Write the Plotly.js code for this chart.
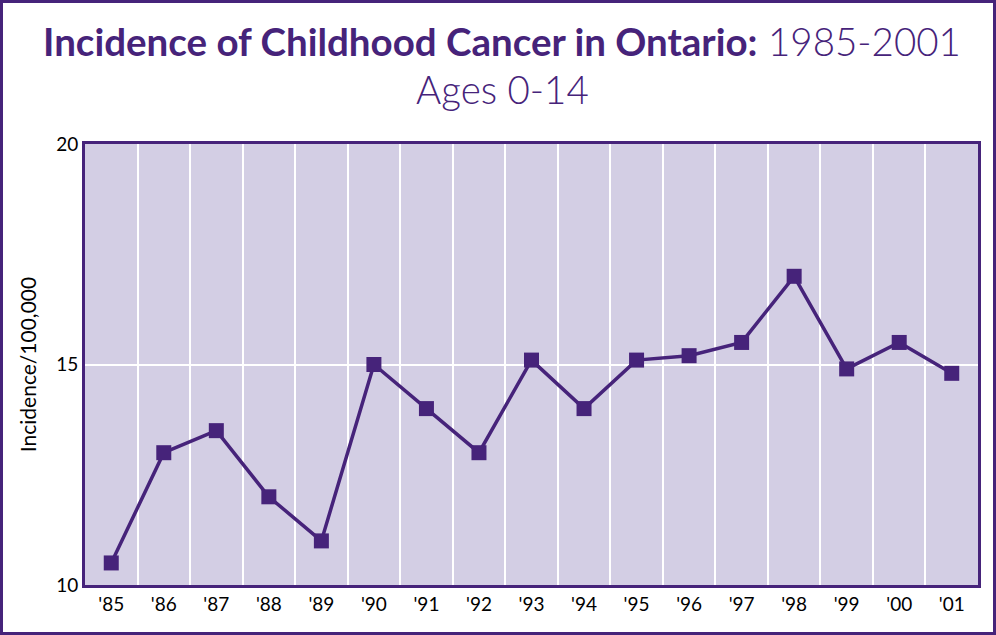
<!DOCTYPE html>
<html><head><meta charset="utf-8">
<script src="https://cdn.plot.ly/plotly-3.0.1.min.js"></script>
<style>
html,body{margin:0;padding:0;background:#fff;}
#wrap{position:absolute;left:0;top:0;width:996px;height:635px;box-sizing:border-box;border:3px solid #46237a;background:#fff;}
#chart{width:990px;height:629px;}
</style></head><body>
<div id="wrap"><div id="chart"></div></div>
<script>
const years = ["'85","'86","'87","'88","'89","'90","'91","'92","'93","'94","'95","'96","'97","'98","'99","'00","'01"];
const incidence = [10.5, 13.0, 13.5, 12.0, 11.0, 15.0, 14.0, 13.0, 15.1, 14.0, 15.1, 15.2, 15.5, 17.0, 14.9, 15.5, 14.8];
const yTicks = [10, 15, 20];
const titleLine1 = "<b>Incidence of Childhood Cancer in Ontario:</b> 1985-2001";
const titleLine2 = "Ages 0-14";

const purple = '#46237a';
const trace = {
  x: years, y: incidence, type: 'scatter', mode: 'lines+markers',
  line: {color: purple, width: 3.5},
  marker: {symbol: 'square', size: 15, color: purple},
  hoverinfo: 'skip', showlegend: false
};
const titleFont = {family: 'Lato', size: 38.5, color: purple, weight: 300};
const layout = {
  width: 990, height: 629,
  margin: {l: 82, r: 15, t: 141, b: 47},
  paper_bgcolor: '#ffffff', plot_bgcolor: '#d3cee4',
  annotations: [
    {text: titleLine1, xref: 'paper', yref: 'paper', x: 0.4675, y: 1.2336, xanchor: 'center', yanchor: 'middle', showarrow: false, font: titleFont},
    {text: titleLine2, xref: 'paper', yref: 'paper', x: 0.4675, y: 1.1247, xanchor: 'center', yanchor: 'middle', showarrow: false, font: titleFont}
  ],
  xaxis: {
    type: 'category', range: [-0.5, 16.5], tickson: 'boundaries', showgrid: true, gridcolor: '#ffffff', gridwidth: 2,
    showline: true, linecolor: purple, linewidth: 3, mirror: true, ticks: '',
    tickfont: {family: 'Lato', size: 19, color: '#000'}, fixedrange: true
  },
  yaxis: {
    range: [10, 20], tickvals: yTicks, ticktext: yTicks.map(String),
    showgrid: true, gridcolor: '#ffffff', gridwidth: 2, zeroline: false,
    showline: true, linecolor: purple, linewidth: 3, mirror: true, ticks: '',
    tickfont: {family: 'Lato', size: 19, color: '#000'},
    title: {text: 'Incidence/100,000', font: {family: 'Lato', size: 21, color: '#000'}, standoff: 14}
  }
};
Plotly.newPlot('chart', [trace], layout, {displayModeBar: false, staticPlot: true});
</script></body></html>
